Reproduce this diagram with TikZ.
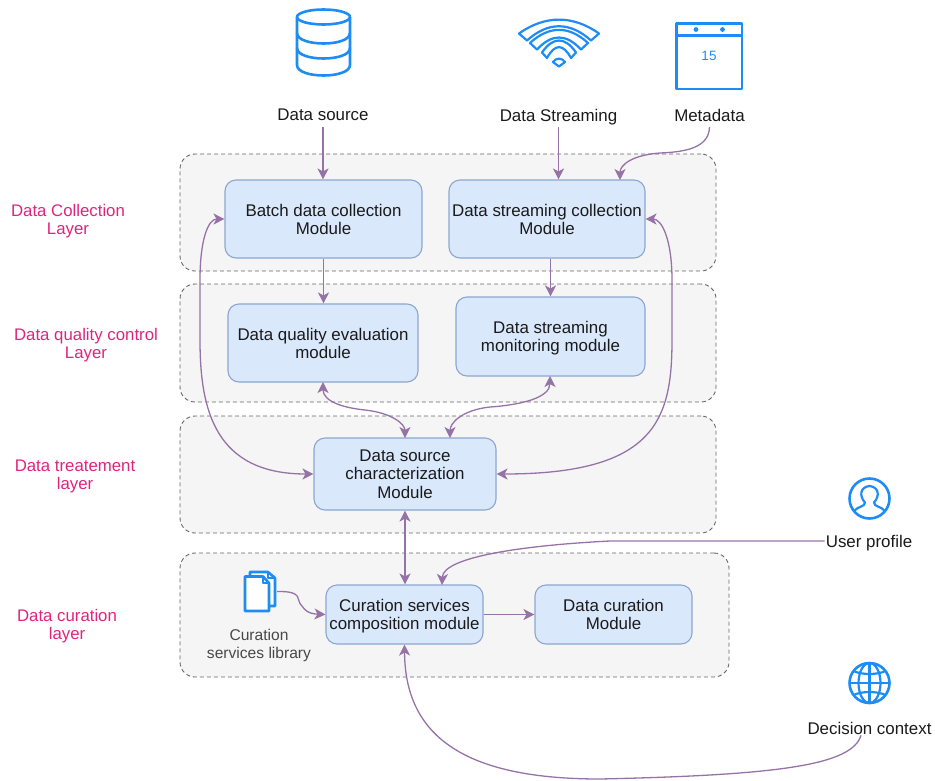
\documentclass[tikz,border=0pt]{standalone}
\usepackage{fontspec}
\setmainfont{Liberation Sans}
\usetikzlibrary{arrows.meta,calc}
\definecolor{laycol}{HTML}{F5F5F5}
\definecolor{laydraw}{HTML}{666666}
\definecolor{boxfill}{HTML}{DAE8FC}
\definecolor{boxdraw}{HTML}{8CA6CF}
\definecolor{conncol}{HTML}{9673A6}
\definecolor{iconcol}{HTML}{1E8CF5}
\definecolor{pinkcol}{HTML}{E0247E}
\definecolor{txtcol}{HTML}{1A1A1A}
\tikzset{
  layerbox/.style={draw=laydraw,fill=laycol,dash pattern=on 4pt off 3pt,line width=0.9pt,rounded corners=15pt,inner sep=0pt},
  modulebox/.style={draw=boxdraw,fill=boxfill,line width=1.1pt,rounded corners=11pt,align=center,text=txtcol,font=\fontsize{16.9}{18.2}\selectfont,inner sep=0pt,text depth=0pt},
  plain/.style={align=center,text=txtcol,font=\fontsize{16.9}{18.2}\selectfont,inner sep=1pt,text depth=0pt},
  small/.style={align=center,text=txtcol!80,font=\fontsize{15.6}{18.2}\selectfont,inner sep=1pt,text depth=0pt},
  laylabel/.style={align=center,text=pinkcol,font=\fontsize{16.8}{18.2}\selectfont,inner sep=1pt,text depth=0pt},
  conn/.style={draw=conncol,line width=1.3pt,-{Stealth[length=11pt,width=11pt,inset=3pt]}},
  biconn/.style={draw=conncol,line width=1.3pt,{Stealth[length=11pt,width=11pt,inset=3pt]}-{Stealth[length=11pt,width=11pt,inset=3pt]}},
  icon/.style={draw=iconcol,line width=2.6pt,line join=round}
}
\begin{document}
\begin{tikzpicture}[x=1pt,y=-1pt]
\useasboundingbox (0,0) rectangle (935,780);
% layers
\node[layerbox,minimum width=536pt,minimum height=117pt] (l1) at (448,212.5) {};
\node[layerbox,minimum width=536pt,minimum height=118pt] (l2) at (448,343) {};
\node[layerbox,minimum width=536pt,minimum height=117pt] (l3) at (448,474.5) {};
\node[layerbox,minimum width=549pt,minimum height=124pt] (l4) at (454.5,615) {};
% layer labels
\node[laylabel] (t1) at (68,219.5) {Data Collection\\Layer};
\node[laylabel] (t2) at (86,343.5) {Data quality control\\Layer};
\node[laylabel] (t3) at (75,474.5) {Data treatement\\layer};
\node[laylabel] (t4) at (67,624.5) {Data curation\\layer};
% modules
\node[modulebox,minimum width=197pt,minimum height=78pt] (batch) at (323.5,219) {Batch data collection\\Module};
\node[modulebox,minimum width=196pt,minimum height=78pt] (stream) at (547,219) {Data streaming collection\\Module};
\node[modulebox,minimum width=190pt,minimum height=78pt] (quality) at (323,343) {Data quality evaluation\\module};
\node[modulebox,minimum width=189pt,minimum height=79pt] (monitor) at (550.5,336.5) {Data streaming\\monitoring module};
\node[modulebox,minimum width=182pt,minimum height=72pt] (charac) at (405,474) {Data source\\characterization\\Module};
\node[modulebox,minimum width=157pt,minimum height=59pt] (compo) at (404.5,614.5) {Curation services\\composition module};
\node[modulebox,minimum width=157pt,minimum height=59pt] (curat) at (613.5,614.5) {Data curation\\Module};
% sources
\node[plain] (ds) at (323,115) {Data source};
\node[plain] (dstream) at (558.5,115) {Data Streaming};
\node[plain] (meta) at (709.5,115) {Metadata};
\node[plain] (user) at (869,541) {User profile};
\node[plain] (decision) at (869.5,728) {Decision context};
\node[small] (lib) at (259,644) {Curation\\services library};
% database icon
\draw[icon] (297,17) -- (297,65) .. controls (297,79) and (350,79) .. (350,65) -- (350,17);
\draw[icon] (323.5,17) ellipse[x radius=26.5,y radius=7.5];
\draw[icon] (297,33) .. controls (297,47) and (350,47) .. (350,33);
\draw[icon] (297,48) .. controls (297,62) and (350,62) .. (350,48);
% wifi icon
\draw[icon,line width=2.2pt] (519,33.5) .. controls (545,15) and (573,15) .. (599,33.5) -- (591,40.5) .. controls (570,21.5) and (548,21.5) .. (527,40.5) -- cycle;
\draw[icon,line width=2.2pt] (530,43) .. controls (549,25.5) and (569,25.5) .. (588,43) -- (581,49.5) .. controls (566,33.5) and (552,33.5) .. (537,49.5) -- cycle;
\draw[icon,line width=2.2pt] (542,52.5) .. controls (553,36.5) and (565,36.5) .. (576,52.5) -- (571,58) .. controls (563,43.5) and (555,43.5) .. (547,58) -- cycle;
\draw[icon,line width=2.2pt] (553,62) .. controls (556,57.5) and (562,57.5) .. (565,62) -- (559,66.5) -- cycle;
% calendar icon
\draw[icon] (676.5,23.5) rectangle (742,89);
\draw[icon,line width=2.2pt] (676.5,35.5) -- (742,35.5);
\fill[iconcol] (696,29.5) circle (2.4pt) (722.5,29.5) circle (2.4pt);
\node[text=iconcol,font=\fontsize{13.5}{15}\selectfont,inner sep=0pt] (cal) at (709,56) {15};
% user icon
\draw[icon] (869.5,498.5) circle (20pt);
\draw[icon,line width=2.2pt] (854,511) .. controls (858,506) and (865,507) .. (865,502.5) .. controls (859,496) and (860,487) .. (869.5,486) .. controls (879,487) and (880,496) .. (874,502.5) .. controls (874,507) and (881,506) .. (885,511);
% globe icon
\draw[icon] (869.5,683) circle (20pt);
\draw[icon,line width=2.2pt] (869.5,663) -- (869.5,703) (849.5,683) -- (889.5,683);
\draw[icon,line width=2.2pt] (869.5,683) ellipse[x radius=11,y radius=20];
\draw[icon,line width=2.2pt] (853.5,671) .. controls (862,675) and (877,675) .. (885.5,671);
\draw[icon,line width=2.2pt] (853.5,695) .. controls (862,691) and (877,691) .. (885.5,695);
% documents icon
\draw[icon,line width=2.6pt,fill=white] (250,572) -- (268,572) -- (275,578) -- (275,606) -- (250,606) -- cycle;
\draw[icon,line width=2pt] (268,572) -- (268,578) -- (275,578);
\draw[icon,line width=2.6pt,fill=white] (245,576.5) -- (263,576.5) -- (269,583) -- (269,611) -- (245,611) -- cycle;
\draw[icon,line width=2pt] (263,576.5) -- (263,583) -- (269,583);
% free ends
\coordinate (docout) at (277,591.5);
\coordinate (metain) at (620,180);
\coordinate (userin) at (442,585);
\coordinate (qin) at (405,438);
\coordinate (min) at (450,438);
\coordinate (qout) at (323,382);
\coordinate (mout) at (550,376);
% connectors
\draw[conn] (ds.south |- 0,127) -- (ds.south |- batch.north);
\draw[conn] (dstream.south |- 0,127) -- (dstream.south |- stream.north);
\draw[conn] (meta.south |- 0,127) .. controls (709,148) and (685,152) .. (660,153) .. controls (632,155) and (620,165) .. (metain);
\draw[conn] (batch.south) -- (batch.south |- quality.north);
\draw[conn] (stream.south -| monitor.north) -- (monitor.north);
\draw[biconn] (qout) .. controls (323,402) and (345,408) .. (365,410) .. controls (392,413) and (405,424) .. (qin);
\draw[biconn] (mout) .. controls (550,398) and (520,405) .. (490,407) .. controls (462,410) and (450,423) .. (min);
\draw[biconn] (batch.west) .. controls (208,219) and (200,240) .. (200,280) -- (200,340) .. controls (200,410) and (215,474) .. (charac.west);
\draw[biconn] (stream.east) .. controls (662,219) and (672,240) .. (672,280) -- (672,340) .. controls (672,420) and (655,474) .. (charac.east);
\draw[biconn] (charac.south) -- (compo.north -| charac.south);
\draw[conn] (compo.east) -- (curat.west);
\draw[conn] (docout) .. controls (305,591) and (295,600) .. (302,606) .. controls (307,614) and (315,614) .. (compo.west);
\draw[conn] (user.west) -- (610,541) .. controls (530,545) and (443,556) .. (userin);
\draw[conn] (decision.south -| 861,0) .. controls (852,765) and (780,775) .. (600,779) .. controls (470,779) and (405,740) .. (compo.south);
\end{tikzpicture}
\end{document}
